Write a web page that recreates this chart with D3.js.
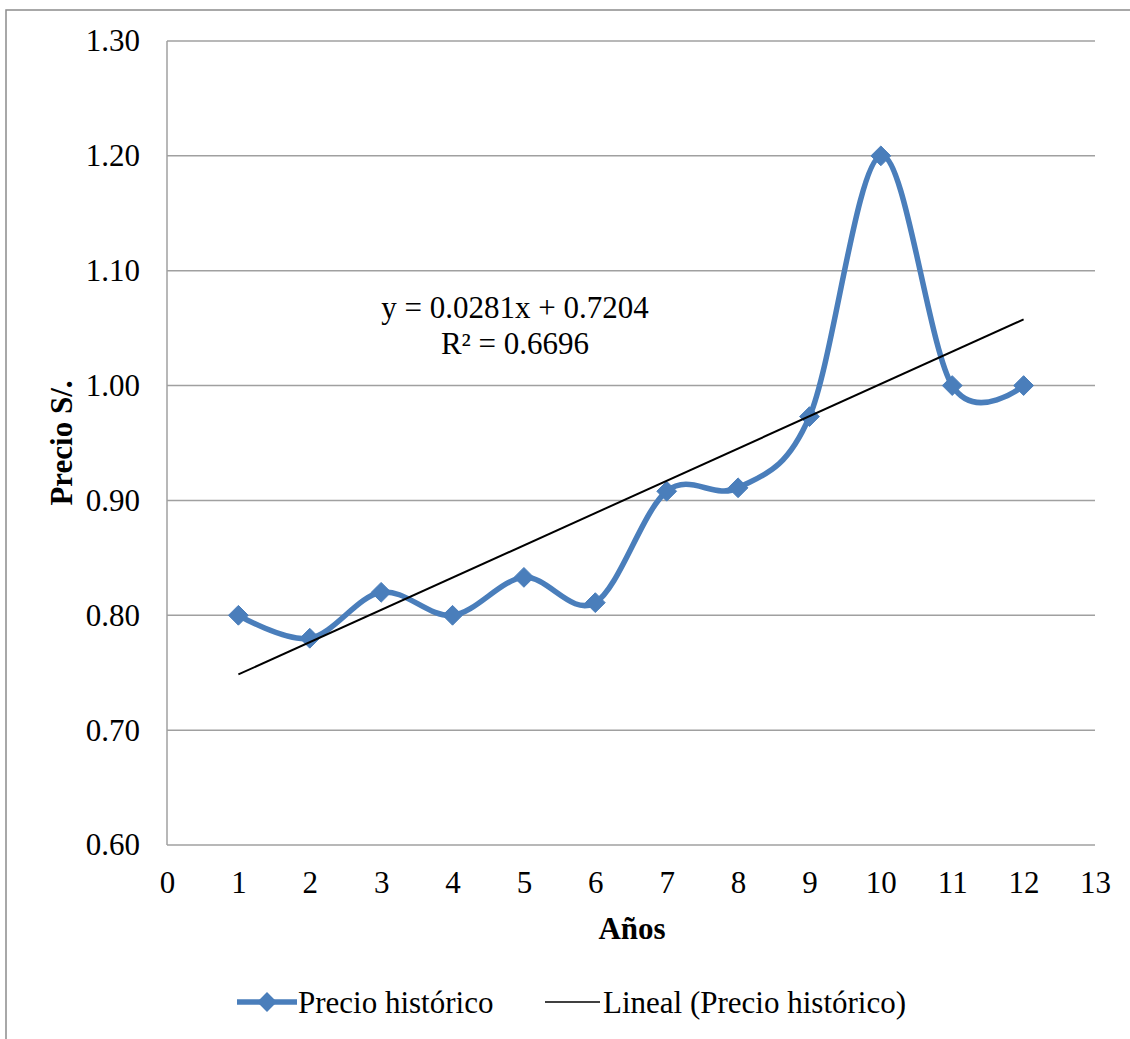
<!DOCTYPE html>
<html><head><meta charset="utf-8">
<script src="https://cdn.jsdelivr.net/npm/d3@7"></script>
<style>body{margin:0;background:#fff}text{font-family:"Liberation Serif","Times New Roman",serif}</style>
</head><body>
<svg id="c" width="1130" height="1039"></svg>
<script>
const years = [1,2,3,4,5,6,7,8,9,10,11,12];
const prices = [0.80,0.78,0.82,0.80,0.833,0.811,0.908,0.911,0.973,1.20,1.00,1.00];
const xTicks = [0,1,2,3,4,5,6,7,8,9,10,11,12,13];
const yTicks = [0.60,0.70,0.80,0.90,1.00,1.10,1.20,1.30];
const trendSlope = 0.0281, trendIntercept = 0.7204;
const eqLabels = ["y = 0.0281x + 0.7204","R² = 0.6696"];
const legendLabels = ["Precio histórico","Lineal (Precio histórico)"];

const FS = 31;
const svg = d3.select("#c");
const blue = "#4a7ebb";
svg.append("rect").attr("x",6).attr("y",10).attr("width",1140).attr("height",1060)
  .attr("fill","#fff").attr("stroke","#8c8c8c").attr("stroke-width",1.5);

const x = d3.scaleLinear().domain([0,13]).range([167,1095]);
const y = d3.scaleLinear().domain([0.60,1.30]).range([845,41]);

// gridlines
svg.append("g").selectAll("line").data(yTicks).join("line")
  .attr("x1",x(0)).attr("x2",x(13)).attr("y1",d=>y(d)).attr("y2",d=>y(d))
  .attr("stroke","#a0a0a0").attr("stroke-width",1.5);
svg.append("line").attr("x1",x(0)).attr("x2",x(0)).attr("y1",y(1.30)).attr("y2",y(0.60))
  .attr("stroke","#a0a0a0").attr("stroke-width",1.5);

const yAxis = svg.append("g").attr("transform",`translate(${x(0)},0)`)
  .call(d3.axisLeft(y).tickValues(yTicks).tickFormat(d3.format(".2f")).tickSize(0).tickPadding(27));
yAxis.select(".domain").remove();
yAxis.attr("font-family",null).attr("font-size",null);
yAxis.selectAll("text").attr("font-size",FS).attr("fill","#000").style("font-family","Liberation Serif");

const xAxis = svg.append("g").attr("transform",`translate(0,${y(0.60)})`)
  .call(d3.axisBottom(x).tickValues(xTicks).tickFormat(d3.format("d")).tickSize(0).tickPadding(26));
xAxis.select(".domain").remove();
xAxis.attr("font-family",null).attr("font-size",null);
xAxis.selectAll("text").attr("font-size",FS).attr("fill","#000").style("font-family","Liberation Serif");

// axis titles
svg.append("text").attr("x",632).attr("y",939).attr("text-anchor","middle")
  .attr("font-size",FS).attr("font-weight","bold").text("Años");
svg.append("text").attr("transform","translate(72,443) rotate(-90)").attr("text-anchor","middle")
  .attr("font-size",FS).attr("font-weight","bold").text("Precio S/.");

// series
const data = years.map((d,i)=>({x:d,y:prices[i]}));
const line = d3.line().x(d=>x(d.x)).y(d=>y(d.y)).curve(d3.curveCardinal.tension(0));
svg.append("path").datum(data).attr("d",line).attr("fill","none")
  .attr("stroke",blue).attr("stroke-width",5.5).attr("stroke-linejoin","round");

const diamond = d3.symbol().type(d3.symbolDiamond2).size(250);
svg.append("g").selectAll("path").data(data).join("path")
  .attr("transform",d=>`translate(${x(d.x)},${y(d.y)})`)
  .attr("d",diamond).attr("fill",blue).attr("stroke",blue).attr("stroke-width",1);

// trend line
const tx = [years[0], years[years.length-1]];
svg.append("line").attr("x1",x(tx[0])).attr("y1",y(trendIntercept+trendSlope*tx[0]))
  .attr("x2",x(tx[1])).attr("y2",y(trendIntercept+trendSlope*tx[1]))
  .attr("stroke","#000").attr("stroke-width",2);

// equation
svg.selectAll(".eq").data(eqLabels).join("text").attr("class","eq")
  .attr("x",515).attr("y",(d,i)=>318+i*36).attr("text-anchor","middle")
  .attr("font-size",FS).text(d=>d);

// legend
const lg = svg.append("g");
lg.append("line").attr("x1",237).attr("x2",297).attr("y1",1002).attr("y2",1002)
  .attr("stroke",blue).attr("stroke-width",5.5);
lg.append("path").attr("transform","translate(267,1002)").attr("d",diamond).attr("fill",blue);
lg.append("text").attr("x",298).attr("y",1013).attr("font-size",FS).text(legendLabels[0]);
lg.append("line").attr("x1",545).attr("x2",600).attr("y1",1002).attr("y2",1002)
  .attr("stroke","#000").attr("stroke-width",1.5);
lg.append("text").attr("x",603).attr("y",1013).attr("font-size",FS).text(legendLabels[1]);
</script>
</body></html>
